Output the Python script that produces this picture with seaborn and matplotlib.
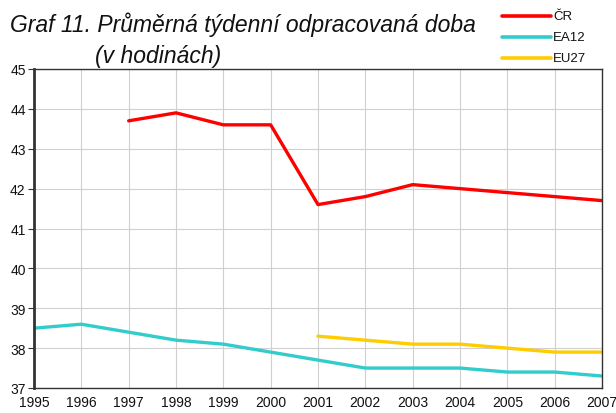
import numpy as np
import pandas as pd
import matplotlib
matplotlib.use("Agg")
import matplotlib.pyplot as plt
import seaborn as sns

years = list(range(1995, 2008))
cr = [np.nan, np.nan, 43.7, 43.9, 43.6, 43.6, 41.6, 41.8, 42.1, 42.0, 41.9, 41.8, 41.7]
ea12 = [38.5, 38.6, 38.4, 38.2, 38.1, 37.9, 37.7, 37.5, 37.5, 37.5, 37.4, 37.4, 37.3]
eu27 = [np.nan] * 6 + [38.3, 38.2, 38.1, 38.1, 38.0, 37.9, 37.9]
series_names = ["ČR", "EA12", "EU27"]
colors = ["#FF0000", "#33CCCC", "#FFCC00"]
title_line1 = "Graf 11. Průměrná týdenní odpracovaná doba"
title_line2 = "(v hodinách)"

sns.set_theme(style="white")
plt.rcParams['font.family'] = ['Liberation Sans', 'DejaVu Sans']

df = pd.DataFrame({"rok": years * 3,
                   "hodnota": cr + ea12 + eu27,
                   "serie": sum([[n] * len(years) for n in series_names], [])})
df = df.dropna()

fig = plt.figure(figsize=(6.16, 4.14), dpi=100)
ax = fig.add_axes([34 / 616, 1 - 389 / 414, (602 - 34) / 616, (389 - 70) / 414])
sns.lineplot(data=df, x="rok", y="hodnota", hue="serie", hue_order=series_names,
             palette=colors, linewidth=2.4, ax=ax, legend=False)

ax.set_xlim(1995, 2007)
ax.set_ylim(37, 45)
ax.set_xticks(years)
ax.set_yticks(range(37, 46))
ax.grid(True, color="#d0d0d0", linewidth=0.8)
ax.set_axisbelow(True)
ax.set_xlabel("")
ax.set_ylabel("")
for s in ["top", "right", "bottom"]:
    ax.spines[s].set_color("#333333")
    ax.spines[s].set_linewidth(1.0)
ax.spines["left"].set_color("#333333")
ax.spines["left"].set_linewidth(2.0)
ax.tick_params(axis="y", direction="out", length=4, width=0.8, color="#333333",
               labelsize=10, pad=2, left=True)
ax.tick_params(axis="x", length=0, labelsize=10, pad=5)
for lab in ax.get_xticklabels() + ax.get_yticklabels():
    lab.set_color("#111111")

fig.text(10 / 616, 1 - 32 / 414, title_line1, fontsize=16.5, style="italic",
         va="baseline", ha="left", color="#111111")
fig.text(95 / 616, 1 - 63 / 414, title_line2, fontsize=16.5, style="italic",
         va="baseline", ha="left", color="#111111")

for i, (n, c) in enumerate(zip(series_names, colors)):
    y = 1 - (17 + 21 * i) / 414
    fig.add_artist(plt.Line2D([502 / 616, 551 / 616], [y, y], color=c, linewidth=2.6,
                              transform=fig.transFigure))
    fig.text(553 / 616, y, n, fontsize=9.5, va="center", ha="left", color="#111111")

fig.savefig("out.png", dpi=100)
